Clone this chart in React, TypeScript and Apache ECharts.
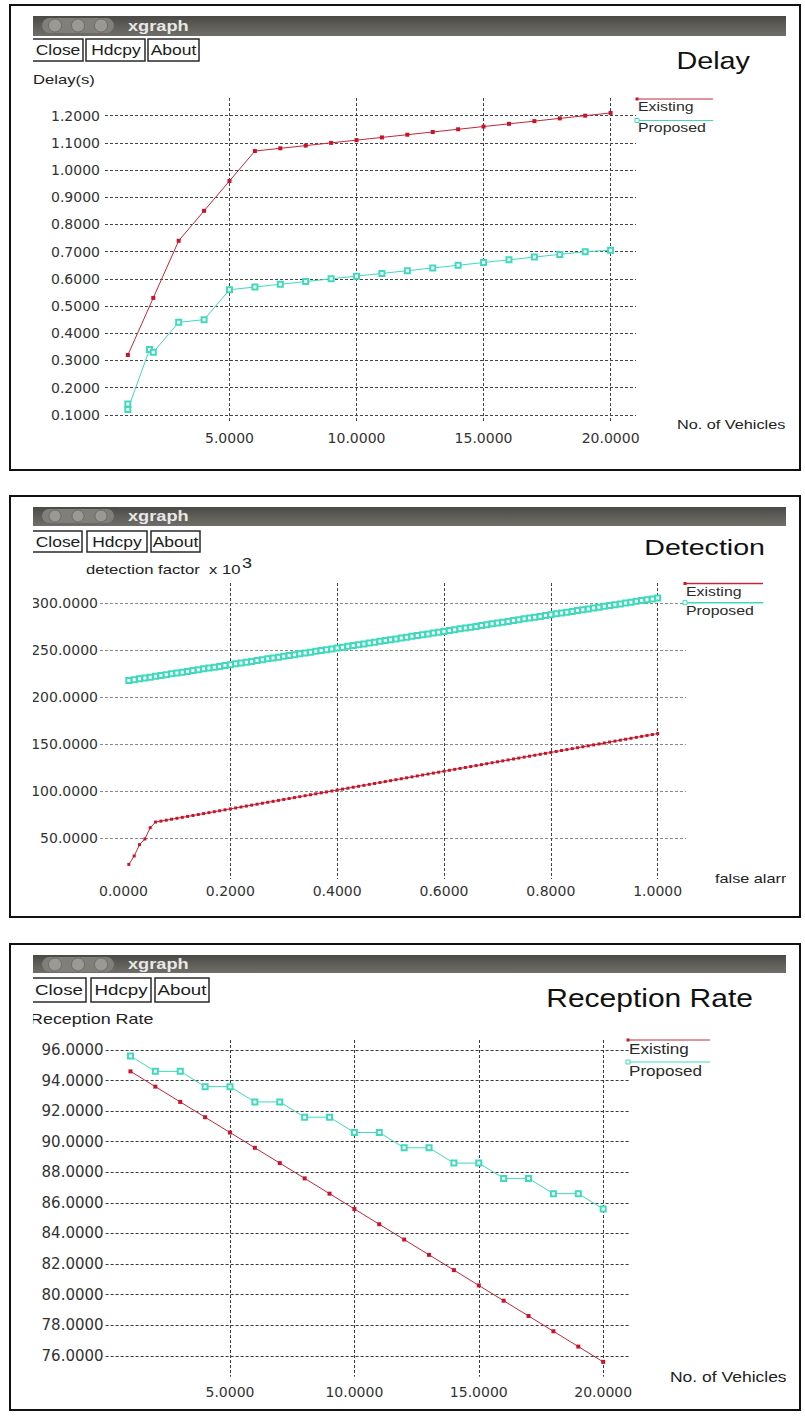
import React, { useEffect, useRef } from "react";
import * as echarts from "echarts";

// ---------- Panel 1: Delay ----------
const delayX = [1, 2, 3, 4, 5, 6, 7, 8, 9, 10, 11, 12, 13, 14, 15, 16, 17, 18, 19, 20];
const delayExisting = [0.32, 0.53, 0.74, 0.85, 0.96, 1.07, 1.08, 1.09, 1.1, 1.11, 1.12, 1.13, 1.14, 1.15, 1.16, 1.17, 1.18, 1.19, 1.2, 1.21];
const delayProposedX = [1, 1, 1.85, 2, 3, 4, 5, 6, 7, 8, 9, 10, 11, 12, 13, 14, 15, 16, 17, 18, 19, 20];
const delayProposed = [0.14, 0.12, 0.34, 0.33, 0.44, 0.45, 0.56, 0.57, 0.58, 0.59, 0.6, 0.61, 0.62, 0.63, 0.64, 0.65, 0.66, 0.67, 0.68, 0.69, 0.7, 0.705];
const delayXTicks = [5, 10, 15, 20];
const delayYTicks = [0.1, 0.2, 0.3, 0.4, 0.5, 0.6, 0.7, 0.8, 0.9, 1.0, 1.1, 1.2];

// ---------- Panel 2: Detection ----------
const detX = [
  0.01, 0.02, 0.03, 0.04, 0.05, 0.06, 0.07, 0.08, 0.09, 0.1,
  0.11, 0.12, 0.13, 0.14, 0.15, 0.16, 0.17, 0.18, 0.19, 0.2,
  0.21, 0.22, 0.23, 0.24, 0.25, 0.26, 0.27, 0.28, 0.29, 0.3,
  0.31, 0.32, 0.33, 0.34, 0.35, 0.36, 0.37, 0.38, 0.39, 0.4,
  0.41, 0.42, 0.43, 0.44, 0.45, 0.46, 0.47, 0.48, 0.49, 0.5,
  0.51, 0.52, 0.53, 0.54, 0.55, 0.56, 0.57, 0.58, 0.59, 0.6,
  0.61, 0.62, 0.63, 0.64, 0.65, 0.66, 0.67, 0.68, 0.69, 0.7,
  0.71, 0.72, 0.73, 0.74, 0.75, 0.76, 0.77, 0.78, 0.79, 0.8,
  0.81, 0.82, 0.83, 0.84, 0.85, 0.86, 0.87, 0.88, 0.89, 0.9,
  0.91, 0.92, 0.93, 0.94, 0.95, 0.96, 0.97, 0.98, 0.99, 1.0,
];
const detExisting = [
  22, 31, 43, 49, 61, 67, 68, 69, 70, 71,
  72, 73, 74, 75, 76, 77, 78, 79, 80, 81,
  82, 83, 84, 85, 86, 87, 88, 89, 90, 91,
  92, 93, 94, 95, 96, 97, 98, 99, 100, 101,
  102, 103, 104, 105, 106, 107, 108, 109, 110, 111,
  112, 113, 114, 115, 116, 117, 118, 119, 120, 121,
  122, 123, 124, 125, 126, 127, 128, 129, 130, 131,
  132, 133, 134, 135, 136, 137, 138, 139, 140, 141,
  142, 143, 144, 145, 146, 147, 148, 149, 150, 151,
  152, 153, 154, 155, 156, 157, 158, 159, 160, 161,
];
const detProposed = [
  217.4, 218.3, 219.2, 220.0, 220.9, 221.8, 222.7, 223.6, 224.5, 225.4,
  226.2, 227.1, 228.0, 228.9, 229.8, 230.7, 231.5, 232.4, 233.3, 234.2,
  235.1, 236.0, 236.9, 237.7, 238.6, 239.5, 240.4, 241.3, 242.2, 243.1,
  243.9, 244.8, 245.7, 246.6, 247.5, 248.4, 249.2, 250.1, 251.0, 251.9,
  252.8, 253.7, 254.6, 255.4, 256.3, 257.2, 258.1, 259.0, 259.9, 260.8,
  261.6, 262.5, 263.4, 264.3, 265.2, 266.1, 266.9, 267.8, 268.7, 269.6,
  270.5, 271.4, 272.3, 273.1, 274.0, 274.9, 275.8, 276.7, 277.6, 278.5,
  279.3, 280.2, 281.1, 282.0, 282.9, 283.8, 284.6, 285.5, 286.4, 287.3,
  288.2, 289.1, 290.0, 290.8, 291.7, 292.6, 293.5, 294.4, 295.3, 296.2,
  297.0, 297.9, 298.8, 299.7, 300.6, 301.5, 302.3, 303.2, 304.1, 305.0,
];
const detXLabels = [0, 0.2, 0.4, 0.6, 0.8, 1.0];
const detXLines = [0.2, 0.4, 0.6, 0.8, 1.0];
const detYTicks = [50, 100, 150, 200, 250, 300];

// ---------- Panel 3: Reception Rate ----------
const recX = [1, 2, 3, 4, 5, 6, 7, 8, 9, 10, 11, 12, 13, 14, 15, 16, 17, 18, 19, 20];
const recExisting = [94.6, 93.6, 92.6, 91.6, 90.6, 89.6, 88.6, 87.6, 86.6, 85.6, 84.6, 83.6, 82.6, 81.6, 80.6, 79.6, 78.6, 77.6, 76.6, 75.6];
const recProposed = [95.6, 94.6, 94.6, 93.6, 93.6, 92.6, 92.6, 91.6, 91.6, 90.6, 90.6, 89.6, 89.6, 88.6, 88.6, 87.6, 87.6, 86.6, 86.6, 85.6];
const recXTicks = [5, 10, 15, 20];
const recYTicks = [76, 78, 80, 82, 84, 86, 88, 90, 92, 94, 96];

const seriesNames = ["Existing", "Proposed"];
const buttonLabels = ["Close", "Hdcpy", "About"];

// ---------- styles ----------
const FONT = '"Liberation Sans", Arial, Helvetica, sans-serif';
const TICK_FONT = '"DejaVu Sans", sans-serif';
const RED = "#c8142a";
const RED_LINE = "#c0283a";
const TEAL = "#3fdabb";

function txt(x: number, y: number, text: string, size: number, o: any = {}) {
  return {
    type: "text",
    x,
    y,
    scaleX: o.scaleX ?? 1,
    z: o.z ?? 104,
    silent: true,
    style: {
      text,
      font: `${o.bold ? "bold " : ""}${size}px ${o.family ?? FONT}`,
      fill: o.fill ?? "#1c1c1c",
      align: o.align ?? "left",
      verticalAlign: "middle",
    },
  };
}

type Panel = {
  box: [number, number];
  bar: [number, number];
  pill: [number, number];
  xgraphY: number;
  btnY: [number, number];
  btns: [number, number, number][];
  btnFont: number;
  title: string;
  titleRight: number;
  titleY: number;
  titleSize: number;
  titleScale: number;
  legend: { x0: number; x1: number; y1: number; y2: number; t1: number; t2: number; size: number; lw: number };
  yName: { x: number; y: number; text: string; size: number };
  xName: { x: number; y: number; text: string; size: number };
};

function chrome(p: Panel) {
  const els: any[] = [];
  const [top, bottom] = p.box;
  els.push({ type: "rect", silent: true, z: 108, shape: { x: 11, y: top + 1, width: 22, height: bottom - top - 2 }, style: { fill: "#ffffff" } });
  els.push({ type: "rect", silent: true, z: 108, shape: { x: 786, y: top + 1, width: 13, height: bottom - top - 2 }, style: { fill: "#ffffff" } });
  els.push({ type: "rect", silent: true, z: 120, shape: { x: 10, y: top, width: 790, height: bottom - top }, style: { fill: "none", stroke: "#111111", lineWidth: 2 } });
  els.push({
    type: "rect",
    silent: true,
    z: 102,
    shape: { x: 33, y: p.bar[0], width: 753, height: p.bar[1] - p.bar[0] },
    style: {
      fill: new echarts.graphic.LinearGradient(0, 0, 0, 1, [
        { offset: 0, color: "#4a4945" },
        { offset: 0.5, color: "#5e5d58" },
        { offset: 1, color: "#6f6e69" },
      ]),
    },
  });
  els.push({ type: "rect", silent: true, z: 103, shape: { x: 42, y: p.pill[0], width: 72, height: p.pill[1] - p.pill[0], r: 8 }, style: { fill: "#807f7a" } });
  const cy = (p.pill[0] + p.pill[1]) / 2;
  const rr = (p.pill[1] - p.pill[0]) / 2 - 1;
  [55, 78, 101].forEach((cx) => {
    els.push({ type: "circle", silent: true, z: 104, shape: { cx, cy, r: rr }, style: { fill: "#9a9994", stroke: "#6c6b67", lineWidth: 1 } });
  });
  els.push(txt(128, p.xgraphY, "xgraph", 14, { bold: true, scaleX: 1.3, fill: "#e8e8e6" }));
  p.btns.forEach(([x0, x1, c], i) => {
    els.push({ type: "rect", silent: true, z: 103, shape: { x: x0, y: p.btnY[0], width: x1 - x0, height: p.btnY[1] - p.btnY[0] }, style: { fill: "#ffffff", stroke: "#2a2a2a", lineWidth: 1.5 } });
    els.push(txt(c, (p.btnY[0] + p.btnY[1]) / 2 + 0.5, buttonLabels[i], p.btnFont, { align: "center", scaleX: 1.25 }));
  });
  els.push(txt(p.titleRight, p.titleY, p.title, p.titleSize, { align: "right", scaleX: p.titleScale, fill: "#111111" }));
  const L = p.legend;
  els.push({ type: "line", silent: true, z: 104, shape: { x1: L.x0, y1: L.y1, x2: L.x1, y2: L.y1 }, style: { stroke: RED_LINE, lineWidth: L.lw } });
  els.push({ type: "rect", silent: true, z: 104, shape: { x: L.x0 - 1.5, y: L.y1 - 1.5, width: 3, height: 3 }, style: { fill: RED } });
  els.push(txt(L.x0 + 1, L.t1, seriesNames[0], L.size, { scaleX: 1.22, fill: "#2a2a2a" }));
  els.push({ type: "line", silent: true, z: 104, shape: { x1: L.x0, y1: L.y2, x2: L.x1, y2: L.y2 }, style: { stroke: TEAL, lineWidth: L.lw } });
  els.push({ type: "rect", silent: true, z: 104, shape: { x: L.x0 - 2, y: L.y2 - 2, width: 4, height: 4 }, style: { fill: "#fff", stroke: TEAL, lineWidth: 1 } });
  els.push(txt(L.x0 + 1, L.t2, seriesNames[1], L.size, { scaleX: 1.22, fill: "#2a2a2a" }));
  els.push(txt(p.yName.x, p.yName.y, p.yName.text, p.yName.size, { scaleX: 1.28, fill: "#222" }));
  els.push(txt(p.xName.x, p.xName.y, p.xName.text, p.xName.size, { scaleX: 1.25, fill: "#222" }));
  return els;
}

const panels: Panel[] = [
  {
    box: [5, 470],
    bar: [16, 36],
    pill: [18, 33],
    xgraphY: 26,
    btnY: [39, 61],
    btns: [[30, 83, 58], [86, 145, 116], [148, 199, 173.5]],
    btnFont: 14,
    title: "Delay",
    titleRight: 750,
    titleY: 61,
    titleSize: 24,
    titleScale: 1.2,
    legend: { x0: 637, x1: 713, y1: 99, y2: 120.5, t1: 107, t2: 128, size: 13, lw: 1 },
    yName: { x: 33, y: 79, text: "Delay(s)", size: 13 },
    xName: { x: 677, y: 425, text: "No. of Vehicles", size: 13 },
  },
  {
    box: [496, 917],
    bar: [507, 526],
    pill: [509, 523],
    xgraphY: 516,
    btnY: [531, 552],
    btns: [[30, 82, 58], [87, 147, 117], [151, 200, 175.5]],
    btnFont: 14,
    title: "Detection",
    titleRight: 765,
    titleY: 547,
    titleSize: 22,
    titleScale: 1.3,
    legend: { x0: 685, x1: 763, y1: 583.5, y2: 602.7, t1: 592, t2: 611, size: 13, lw: 1.5 },
    yName: { x: 86, y: 569, text: "detection factor  x 10", size: 13 },
    xName: { x: 715, y: 879, text: "false alarm", size: 13 },
  },
  {
    box: [944, 1410],
    bar: [955, 973],
    pill: [957, 972],
    xgraphY: 963.5,
    btnY: [978, 1002],
    btns: [[30, 86, 59], [91, 151, 121], [155, 209, 182]],
    btnFont: 15,
    title: "Reception Rate",
    titleRight: 753,
    titleY: 998,
    titleSize: 25,
    titleScale: 1.2,
    legend: { x0: 628, x1: 710, y1: 1040, y2: 1062, t1: 1049, t2: 1071, size: 14, lw: 1 },
    yName: { x: 30, y: 1019, text: "Reception Rate", size: 14 },
    xName: { x: 670, y: 1377, text: "No. of Vehicles", size: 14 },
  },
];

const gridLine = (color: string) => ({ show: true, lineStyle: { color, width: 1, type: [3, 2] } });

function xAxis(gridIndex: number, min: number, max: number, labels: number[], lines: number[], margin: number, size: number, lineColor: string) {
  return {
    type: "value",
    gridIndex,
    min,
    max,
    axisLine: { show: false },
    axisTick: { show: false, customValues: lines },
    splitLine: gridLine(lineColor),
    axisLabel: {
      customValues: labels,
      margin,
      fontSize: size,
      fontFamily: TICK_FONT,
      color: "#333333",
      formatter: (v: number) => v.toFixed(4),
    },
  };
}

function yAxis(gridIndex: number, min: number, max: number, ticks: number[], margin: number, size: number, lineColor: string) {
  return {
    type: "value",
    gridIndex,
    min,
    max,
    axisLine: { show: false },
    axisTick: { show: false, customValues: ticks },
    splitLine: gridLine(lineColor),
    axisLabel: {
      customValues: ticks,
      margin,
      fontSize: size,
      fontFamily: TICK_FONT,
      color: "#333333",
      formatter: (v: number) => v.toFixed(4),
    },
  };
}

function pairs(xs: number[], ys: number[]) {
  return xs.map((x, i) => [x, ys[i]]);
}

function existingSeries(idx: number, data: number[][], size: number) {
  return {
    type: "line",
    name: seriesNames[0],
    xAxisIndex: idx,
    yAxisIndex: idx,
    data,
    symbol: "rect",
    symbolSize: size,
    itemStyle: { color: RED },
    lineStyle: { color: RED_LINE, width: 1 },
    silent: true,
    z: 3,
  };
}

function proposedSeries(idx: number, data: number[][], size: number) {
  return {
    type: "line",
    name: seriesNames[1],
    xAxisIndex: idx,
    yAxisIndex: idx,
    data,
    symbol: "emptyRect",
    symbolSize: size,
    itemStyle: { color: TEAL, borderWidth: 1 },
    lineStyle: { color: TEAL, width: 1 },
    silent: true,
    z: 3,
  };
}

export default function App() {
  const ref = useRef<HTMLDivElement>(null);
  useEffect(() => {
    if (!ref.current) return;
    document.body.style.margin = "0";
    const chart = echarts.init(ref.current, undefined, { renderer: "svg" });
    const graphics: any[] = [];
    panels.forEach((p) => graphics.push(...chrome(p)));
    graphics.push(txt(242, 563, "3", 15, { scaleX: 1.2, fill: "#222" }));

    chart.setOption({
      animation: false,
      backgroundColor: "#ffffff",
      textStyle: { fontFamily: FONT },
      grid: [
        { left: 105, top: 98, width: 531, height: 325, containLabel: false, outerBoundsMode: "none" },
        { left: 100, top: 583, width: 586, height: 296, containLabel: false, outerBoundsMode: "none" },
        { left: 105.6, top: 1040, width: 523.7, height: 336.7, containLabel: false, outerBoundsMode: "none" },
      ],
      xAxis: [
        xAxis(0, 0.1, 21, delayXTicks, delayXTicks, 8, 14, "#444444"),
        xAxis(1, -0.044, 1.053, detXLabels, detXLines, 5, 14, "#444444"),
        xAxis(2, 0, 21.05, recXTicks, recXTicks, 8, 14, "#3a3a3a"),
      ],
      yAxis: [
        yAxis(0, 0.07, 1.265, delayYTicks, 5, 14, "#444444"),
        yAxis(1, 6.5, 321, detYTicks, 2, 14, "#8a8a8a"),
        yAxis(2, 74.63, 96.65, recYTicks, 2, 15, "#3a3a3a"),
      ],
      series: [
        existingSeries(0, pairs(delayX, delayExisting), 4),
        proposedSeries(0, pairs(delayProposedX, delayProposed), 5),
        existingSeries(1, pairs(detX, detExisting), 3),
        proposedSeries(1, pairs(detX, detProposed), 5),
        existingSeries(2, pairs(recX, recExisting), 4),
        proposedSeries(2, pairs(recX, recProposed), 5),
      ],
      graphic: { elements: graphics },
    });
    return () => chart.dispose();
  }, []);
  return <div ref={ref} style={{ position: "absolute", left: 0, top: 0, width: 805, height: 1416 }} />;
}
